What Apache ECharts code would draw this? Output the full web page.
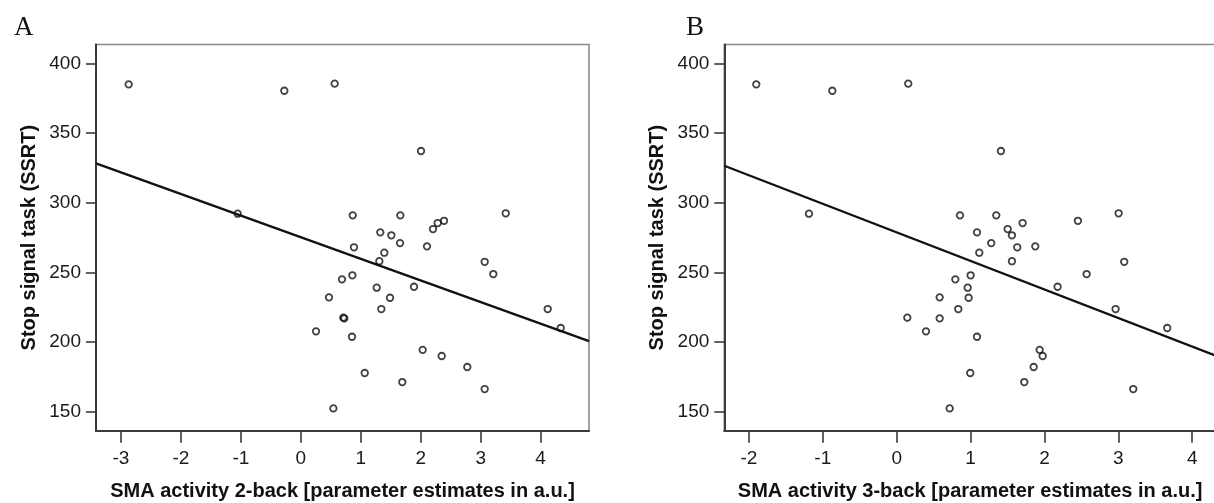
<!DOCTYPE html>
<html><head><meta charset="utf-8">
<script src="https://cdn.jsdelivr.net/npm/echarts@6/dist/echarts.min.js"></script>
<style>html,body{margin:0;padding:0;background:#fff}#c{width:1214px;height:503px}</style>
</head><body><div id="c"></div>
<script>
// SSRT values (shared subjects), with SMA activity for 2-back (A) and 3-back (B)
const ssrt = [385.4,384.9,380.3,337.1,292.4,292.1,290.9,290.9,287.0,285.4,281.1,278.7,276.6,271.0,268.7,268.0,264.1,258.0,257.6,248.8,247.9,245.0,239.7,239.0,232.1,231.8,223.7,223.7,217.5,217.0,210.1,207.7,203.8,194.4,190.0,182.1,177.8,171.3,166.3,152.4];
const xA = [0.565,-2.871,-0.275,2.005,3.418,-1.053,0.866,1.660,2.389,2.283,2.205,1.326,1.510,1.655,2.105,0.887,1.393,1.310,3.067,3.211,0.860,0.687,1.888,1.266,0.470,1.488,1.343,4.118,0.709,0.726,4.335,0.254,0.854,2.033,2.350,2.777,1.066,1.693,3.067,0.543];
const xB = [0.157,-1.900,-0.871,1.411,3.004,-1.187,0.857,1.348,2.453,1.705,1.502,1.087,1.560,1.280,1.876,1.632,1.118,1.560,3.080,2.571,1.001,0.794,2.178,0.961,0.582,0.974,0.834,2.963,0.144,0.582,3.662,0.397,1.087,1.935,1.976,1.854,0.996,1.727,3.202,0.717];
const yTicks = [150,200,250,300,350,400];
const xTicksA = [-3,-2,-1,0,1,2,3,4];
const xTicksB = [-2,-1,0,1,2,3,4];
const fitA = [[-3.416,328.2],[4.807,200.7]];
const fitB = [[-2.333,326.5],[4.322,190.1]];
const xRangeA = [-3.416, 4.807];
const xRangeB = [-2.333, 4.322];
const yRange = [136.4, 413.5];
const xNameA = 'SMA activity 2-back [parameter estimates in a.u.]';
const xNameB = 'SMA activity 3-back [parameter estimates in a.u.]';
const yName = 'Stop signal task (SSRT)';

const sans = 'Liberation Sans, Arial, sans-serif';
const axisCol = '#3a3a3a';

function xAxis(idx, range, ticks, name) {
  return {
    type: 'value', gridIndex: idx, min: range[0], max: range[1],
    name: name, nameLocation: 'middle', nameGap: 51,
    nameTextStyle: {fontFamily: sans, fontWeight: 'bold', fontSize: 20, color: '#111'},
    axisLine: {show: true, onZero: false, lineStyle: {color: axisCol, width: 2}},
    axisTick: {show: true, length: 12, lineStyle: {color: axisCol, width: 1.6}, customValues: ticks},
    axisLabel: {fontFamily: sans, fontSize: 19, color: '#1a1a1a', margin: 19, customValues: ticks},
    splitLine: {show: false}
  };
}
function yAxis(idx) {
  return {
    type: 'value', gridIndex: idx, min: yRange[0], max: yRange[1],
    name: yName, nameLocation: 'middle', nameGap: 57,
    nameTextStyle: {fontFamily: sans, fontWeight: 'bold', fontSize: 20, color: '#111'},
    axisLine: {show: true, onZero: false, lineStyle: {color: axisCol, width: 2}},
    axisTick: {show: true, length: 10, lineStyle: {color: axisCol, width: 1.6}, customValues: yTicks},
    axisLabel: {fontFamily: sans, fontSize: 19, color: '#1a1a1a', margin: 15, customValues: yTicks},
    splitLine: {show: false}
  };
}
function pts(xs) { return xs.map((x, i) => [x, ssrt[i]]); }
const scatterStyle = {color: 'rgba(0,0,0,0)', borderColor: '#111', borderWidth: 1.8};

const chart = echarts.init(document.getElementById('c'), null, {renderer: 'canvas'});
chart.setOption({
  backgroundColor: '#fff',
  animation: false,
  title: [
    {text: 'A', left: 9, top: 9, textStyle: {fontFamily: 'Liberation Serif, Times New Roman, serif', fontWeight: 'normal', fontSize: 27, color: '#111'}},
    {text: 'B', left: 681, top: 9, textStyle: {fontFamily: 'Liberation Serif, Times New Roman, serif', fontWeight: 'normal', fontSize: 27, color: '#111'}}
  ],
  grid: [
    {left: 96, top: 44.5, width: 493, height: 386.2, show: true, borderColor: '#8a8a8a', borderWidth: 1.6, backgroundColor: 'transparent', containLabel: false, outerBoundsMode: 'none'},
    {left: 724.3, top: 44.5, width: 491.7, height: 386.2, show: true, borderColor: '#8a8a8a', borderWidth: 1.6, backgroundColor: 'transparent', containLabel: false, outerBoundsMode: 'none'}
  ],
  xAxis: [xAxis(0, xRangeA, xTicksA, xNameA), xAxis(1, xRangeB, xTicksB, xNameB)],
  yAxis: [yAxis(0), yAxis(1)],
  series: [
    {type: 'line', xAxisIndex: 0, yAxisIndex: 0, data: fitA, symbol: 'none', lineStyle: {color: '#111', width: 2.3}, silent: true, z: 1},
    {type: 'scatter', xAxisIndex: 0, yAxisIndex: 0, data: pts(xA), symbol: 'circle', symbolSize: 6.5, itemStyle: scatterStyle, z: 2},
    {type: 'line', xAxisIndex: 1, yAxisIndex: 1, data: fitB, symbol: 'none', lineStyle: {color: '#111', width: 2.3}, silent: true, z: 1},
    {type: 'scatter', xAxisIndex: 1, yAxisIndex: 1, data: pts(xB), symbol: 'circle', symbolSize: 6.5, itemStyle: scatterStyle, z: 2}
  ]
});
</script>
</body></html>
